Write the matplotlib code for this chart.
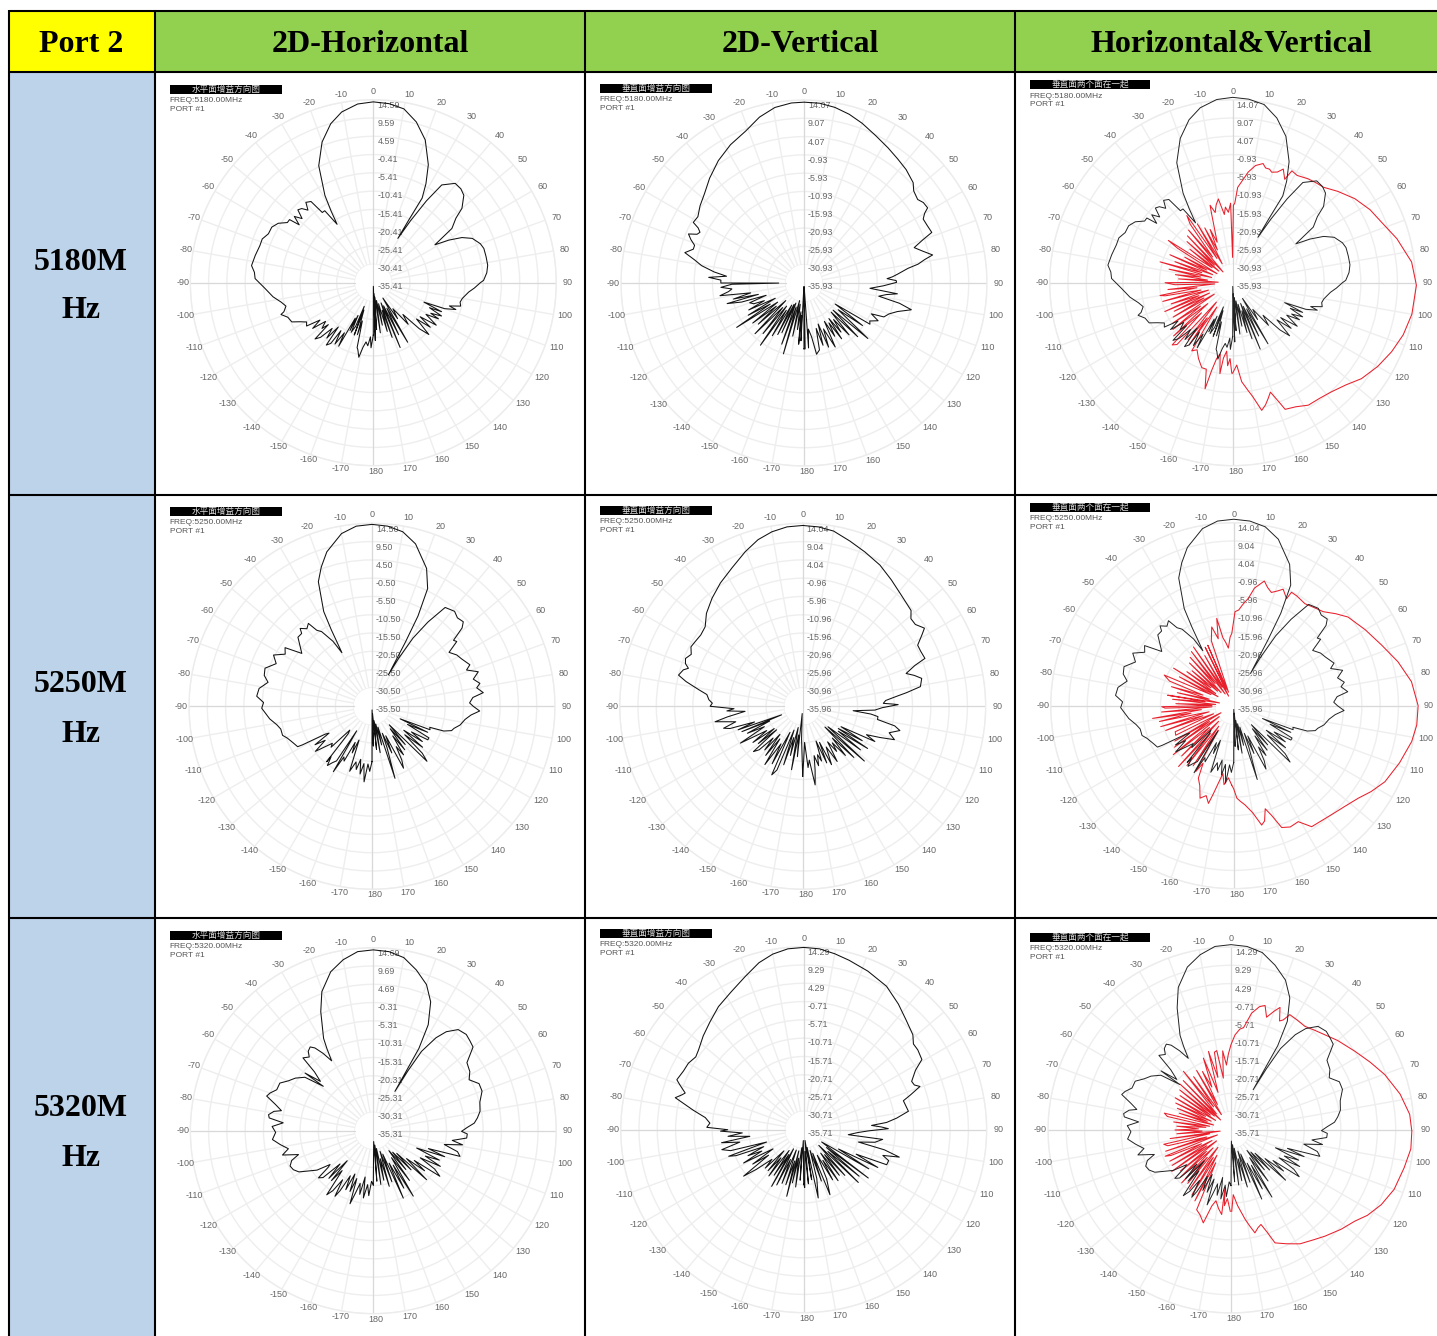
#!/usr/bin/env python3
"""Antenna gain pattern table, port 2: three frequencies by three plot types."""
import numpy as np
import matplotlib
matplotlib.use("Agg")
import matplotlib.pyplot as plt
from matplotlib.patches import Rectangle

# traces are (angle deg, level in dB above the plot floor)
H_5180 = [(-180,14.5),(-178,18),(-177,15),(-175,17.5),(-173,16.5),(-171,18),(-169,21),(-167,19),(-166,18.5),(-164,11),(-163,15),(-161,8),(-160,15.4),(-159,7),(-158,13),(-156,15),(-155,10),(-154,14.7),(-153,11),(-151.4,20),(-150,16),(-148,20),(-146,16),(-145,20.5),(-143,21.6),(-141.7,15.6),(-140,20),(-138,17),(-136,21),(-134,22.4),(-133,17),(-131.7,19),(-129,17),(-127,21),(-125,18),(-123,22),(-120.5,21.4),(-118,23),(-115.7,25),(-112,25.5),(-109,27),(-108,26),(-105,25),(-102,26),(-98,28),(-93,30),(-88,32.7),(-85,33),(-82,34),(-77,33.5),(-72,33),(-68.5,33),(-65,32),(-61.3,32),(-58,31),(-55,29),(-53,29),(-52,26),(-50,28.5),(-48,26.5),(-46,29),(-44,28.5),(-42,27),(-40,29),(-37.5,28.3),(-36,24),(-34,24),(-31.8,19),(-30.5,23),(-29,27.6),(-25,35.7),(-20,41.4),(-15,45.5),(-10.5,48),(-5,49.6),(0,50),(5,49.7),(10,48.8),(15,46),(20,42),(25,36),(28,31),(30,27),(29.5,20),(29,14),(31,20),(33,27),(35,33),(39.5,35.6),(43,35.5),(46,34.8),(50,32),(52,29),(55.4,26.4),(58.4,20),(60.6,24),(63,27.5),(65.9,30),(70,31.5),(72.8,32),(77,32),(81.3,32),(85,31.5),(88.8,30.5),(90,29.6),(93,28),(95.6,26.5),(100,25),(102.6,24.6),(105,25),(107,22),(108,24),(110,21),(111,15),(113,20.5),(114,17),(116,21),(118,18),(119,20.6),(121,17),(124,21),(126,16),(128,20),(130,15.6),(133,21),(135,18),(137,12),(140,15),(143,9),(146,12),(148,5),(150,19),(152,8),(154,16),(156,7),(157.5,19.4),(159,6),(161,16),(162,8),(164,14),(166,6),(168,12),(170,5),(172,14),(174,4),(176,13),(177,3),(178,16),(179,1),(180,14.5)]
H_5250 = [(-180,15.3),(-178,18),(-176,16),(-174,21),(-172,16),(-170,19),(-168,15),(-166,18),(-164,16),(-161,19),(-159,10),(-157,14),(-155,11),(-153,17),(-151,16),(-149.4,21),(-148,8),(-147,18),(-145,19),(-143,20.5),(-141,18),(-140.7,19.8),(-139,10),(-137,9),(-135,16),(-133,15),(-130,18),(-128.5,20),(-126,16),(-124,19),(-122,14),(-120.8,15),(-119,22),(-118.5,23.4),(-115,24),(-110.6,25),(-108,26),(-104,26),(-101,26.8),(-97,28.5),(-91,30.5),(-88,30),(-85,32),(-81,31.6),(-77,29.5),(-74,31),(-70.4,31.4),(-66,29),(-62.5,30.7),(-59,28),(-56,29),(-53,24.3),(-50,26),(-47,28),(-44,28),(-42.7,29.3),(-40,28),(-37.5,28.9),(-36,26),(-34,24.9),(-31,21),(-29.3,17),(-28,24),(-27,29.4),(-23.3,37.5),(-20,41),(-16.3,44.5),(-10,48.5),(-5,50),(0,50.3),(5,50),(10,49),(15,46.5),(21.6,41),(25.3,36),(27,28),(27.5,20),(27.5,9.8),(29,15),(31,22),(33.6,28),(36.5,34),(41,34.8),(44,34),(47.2,34.4),(49,33),(51,29),(52.6,29.5),(55,26),(58.8,27.4),(62,28),(67,29.4),(69,28),(72,30.9),(75,29),(78,30.5),(80,29.4),(83,31),(85,28),(88,27),(90,28),(92.5,29.8),(95,27.5),(98,26),(102,24.9),(105,23.5),(107,23),(109,21),(110,17),(112,17.3),(114,8.5),(115,17),(117,11),(119,18),(121,18),(123,13),(125,17),(127,11),(129,18),(131,12),(133,19),(135,21.5),(137,7),(139,14),(141,8),(143,15),(145,10),(147,16),(149,13),(151,17),(153,19.2),(155,9),(157,14),(159,8),(160,12),(162.3,20.9),(164,6),(166,11),(168,5),(170,13),(172,4),(174,12),(176,2),(178,11),(179,1),(180,15.3)]
H_5320 = [(-180,15),(-178,14),(-176,18),(-174,15),(-171.6,18.8),(-170,13),(-168,18),(-166,15),(-164,18),(-162.3,21.2),(-161,14),(-159,18),(-157,13),(-155,18),(-153,14),(-151,19),(-149.7,21),(-148,16),(-146,20),(-144,21.9),(-142,14),(-140,18),(-139,11),(-137,18),(-135,13),(-133,19),(-130.7,20),(-129,16),(-128,15.2),(-125,19),(-122,21),(-119,23.5),(-116,24.6),(-113,25),(-110,24),(-107.7,21.7),(-105,26),(-102,24),(-98.5,26),(-95,28),(-91,27),(-87.6,28),(-85,25),(-83,29),(-81.3,29.3),(-79,28),(-77.7,26),(-75,28),(-72,31),(-70,30.4),(-67,29),(-63,29),(-59.5,27.2),(-56,26),(-52,24),(-48.4,18.5),(-49.8,24.7),(-47,20),(-45,23),(-44,28),(-41,27),(-39.3,28.4),(-37,29),(-35.2,28),(-33,25.5),(-30.8,22.5),(-29.5,26),(-28.3,29),(-23.8,36),(-20.3,41),(-15,45.5),(-10,48),(-5,49.7),(0,50),(5,49.7),(10,48.6),(15,46),(20,43),(24,39),(27.4,33),(29,26),(28.8,12.4),(30,19),(31.3,25.7),(34,31),(36.4,34),(40,36.5),(44,37),(47,36.5),(50,36),(54,32),(58.5,31.3),(62,30),(66,32),(70,32),(75,30.5),(79.7,30),(83,29),(85.7,28),(88,26),(90.4,24.4),(92,26),(94.5,25.9),(97,22),(99,25),(101,20),(104,24),(106.5,25),(108,16),(110,21),(111.8,12.9),(114,20),(116,16),(118,21),(120,15),(122,20),(124.4,22.3),(126,14),(128,18),(130,12),(132.6,20),(134,9),(136,15),(138,8),(140,14),(142,7),(144,17),(146,9),(148.6,21.2),(150,11),(152,18),(154,10),(156,20.4),(158,7),(160,15),(162,6),(164,16),(166,8),(168,14),(170,5),(172,15),(174,4),(176,14),(178,3),(180,15)]
V_5180 = [(-180,18.2),(-178,1),(-177,16),(-176,9),(-175,17),(-174,8),(-172,13),(-170,6),(-168,15),(-166,5),(-163.8,20.4),(-162,7),(-160,18),(-158,6),(-156,15),(-155,6.5),(-153,16),(-151,7),(-149,17),(-147,9),(-145,21),(-143,8),(-141,18),(-139,9),(-136,19.5),(-134,7),(-132,17),(-130,10),(-128,18),(-126,9),(-123.4,22.3),(-122,11),(-120,17.8),(-118,9),(-116,17),(-114,12),(-112.5,15),(-110,16),(-108,11),(-107,18),(-105,22),(-104,13),(-102.8,20),(-100.5,15),(-98.6,23.5),(-96.5,21),(-94.7,20),(-93,23),(-91,20),(-90.2,7),(-90,23),(-88,23),(-86.6,26.4),(-85,21.5),(-83,25),(-80.4,28.7),(-78,31),(-75.7,34),(-73,32),(-71,32),(-69,33.5),(-67,34.7),(-65.5,32.5),(-64,32),(-62.5,33),(-61.3,34.9),(-58,34.6),(-53.4,35.8),(-48,37),(-42,39),(-35,41.3),(-28,43.3),(-21,45),(-15,47.5),(-9.4,49.2),(-4,49.9),(0,50),(5,49.9),(10,49.3),(15,48.3),(20,47),(26,45.3),(31.9,44),(37,43),(42,42.2),(47.4,41),(50,39.6),(53.7,39),(56,39.8),(58.7,40),(60,38.5),(61.8,37.4),(65,37.6),(68.4,38),(70,35),(72.2,32),(75,34),(77.7,36.4),(79,34),(80.6,32),(82,29),(84.6,26),(86,24.5),(87,23),(88.5,25.5),(89.6,25.6),(92,22),(94.6,18.3),(96.6,26),(98,23),(100,21),(102,27),(104,30.6),(107,27),(110,25),(113,24),(114.6,20.5),(117,23),(120,21),(122,21.5),(124,10.4),(126,20),(128,12),(131,23.4),(133,11),(135,21),(137,11),(139,19),(141,13),(143,17),(145,12),(146,18.6),(148,13),(150,17),(152,12),(154,19.7),(157,13.8),(159,19),(161,12),(163,18),(165,13),(167,19),(170,20),(172,15),(174.6,12.8),(176,18),(177.5,1),(179,18.2),(180,18.2)]
V_5250 = [(-180,19.4),(-178,9),(-176,2),(-174,14),(-172,8),(-170,17.8),(-168,6),(-166,14),(-164,9),(-162,17),(-160,7),(-158,19),(-155.7,20.8),(-154,8),(-152,18),(-150,12),(-147,19.2),(-145,11),(-143,17),(-141,10),(-139,16),(-137,12),(-135,17),(-132.6,18.5),(-132,9.7),(-130,16),(-128,10),(-126,17),(-124,12),(-120.6,20),(-118,12),(-116,17),(-114,10),(-112.6,18.2),(-112,6.3),(-110,19),(-108,14),(-107,21),(-105.5,22.7),(-103,19),(-100,24.6),(-98,21),(-95,16),(-93.5,21),(-92,19),(-90,25.6),(-88,25),(-86,26),(-83,26.7),(-81,29),(-78,33),(-75.9,35.4),(-73,34.5),(-71.6,33.3),(-70,34.5),(-67.8,35),(-65,34),(-62,35),(-59,34.7),(-55,34.4),(-50.8,34.8),(-46,37),(-40,39),(-33.7,41),(-27,43),(-20.4,45.6),(-15,47.7),(-10,49),(-5,49.8),(0,50),(5,49.8),(10,49.2),(16,47.5),(22,46),(28.7,44.5),(35,42.7),(42,41),(48.5,40),(51,38.5),(54,38.5),(57.3,40),(59,38.5),(62,36),(65,36),(68.6,36.3),(70,33),(72.4,30),(74.5,32),(76.8,33.8),(80.5,33),(82.5,29),(84,26),(86,23),(87.9,22.3),(88.6,25),(89,26.4),(91,22),(93,20),(95,14),(96.5,19),(97.8,21),(100,21),(102,26),(104,27.7),(107,25),(110,27),(112,23),(114,19.3),(116,22.2),(118,12),(120,19),(122,11.6),(123,21.4),(125,12),(127,20),(129,9),(131.6,22.8),(133,8.4),(135,20),(137,12),(139,18),(141,13),(143,15.6),(145,12),(148,18),(150,13),(153.7,18),(155,11),(157,17),(159,10.3),(161,16),(163,14),(165,17),(167,14),(169,18),(171,22),(173,15),(175,17),(177,10),(179,15),(180,19.4)]
V_5320 = [(-180,15),(-178,3),(-176,14),(-174,5),(-172,16),(-170,8),(-168,15),(-167,6),(-165.7,19),(-164,9),(-162,16),(-160,6),(-158,16),(-156,9),(-154,17),(-152,6),(-150.5,18),(-149,8),(-147,15),(-145,7),(-143,16),(-141,10),(-139,15),(-137,8),(-135,15),(-133,12),(-130,17),(-127.7,21),(-126,12),(-124,17),(-122,10),(-119,19),(-117,13),(-115,17),(-113,12),(-111,20),(-109.5,22),(-108.4,10.8),(-106,21),(-103.7,23.3),(-101,18),(-99,23),(-97,15),(-95,21),(-93,17),(-91,23),(-90,21),(-88.6,26.8),(-86,26),(-83,27.4),(-80,31),(-76,36.6),(-74,35),(-72.8,34.3),(-70,36.5),(-68.5,37.7),(-64,37),(-60,36.8),(-56,36),(-52.8,36.5),(-47,38),(-41,39.5),(-34.7,41.4),(-28,43),(-21,45.3),(-15,47.8),(-10,49.3),(-5,50.2),(0,50.4),(5,50.2),(10,49.4),(15,48.5),(22,47.3),(30,45.8),(37,43.5),(43,41.5),(49,40),(52,38.5),(55,38.5),(59.3,38),(62,35),(65.9,32.7),(68,33),(69.6,34.3),(72,31),(73.8,28.7),(77,29),(80,29.4),(82.9,25.9),(85,23),(86.4,18.8),(88,21.5),(89.3,23.4),(91,18),(93,15),(96.4,12.4),(97,22),(100,20),(102.7,15.5),(104,23),(106,27.5),(108,23),(110,25),(112.9,24.9),(115,16),(117,23),(119,11),(121,21),(123,8),(124.4,6),(126.8,22.3),(128,8),(130,20),(132,9),(134,21),(136,6),(138,17),(140,9),(142,16),(144,8),(146,17),(148,10),(150,16),(152,8),(155,15),(158,19.4),(159,7),(161,15),(163,6),(165,14),(168,19.3),(169,5),(171,14),(173,3),(175,15),(177,6),(179,16),(180,15)]
R_5180 = [(-179.4,25),(-178,21),(-176.5,23),(-175,19),(-173,21),(-172,25.4),(-170,20),(-168,21.5),(-166.5,25),(-165.4,30.3),(-163,25),(-160,25),(-155.7,23),(-152,21),(-149,22),(-147,8),(-145,21),(-144,12),(-142,20),(-140,7),(-138,23),(-135.8,24),(-134,12),(-132,22),(-130,9),(-128,21),(-126,11),(-124,20),(-122,6),(-120,19),(-118,9),(-116,18),(-114,7),(-113,20.4),(-111,10),(-109,18),(-107,7),(-105,20),(-103,9),(-101,19),(-100,20.4),(-98,10),(-96,18),(-94,5),(-92,16),(-90,18.7),(-88,4),(-86,15),(-84,7),(-82,16),(-80,9),(-78,18),(-76,6),(-74,20.9),(-72,9),(-70,17),(-68,6),(-66,19),(-64,8),(-62,15),(-60,5),(-58,18),(-56.7,21.3),(-54,7),(-52,15),(-50,5),(-48,17),(-46,7),(-44,18),(-42,4),(-40,19),(-38,9),(-36,20),(-34.3,22.5),(-33,8),(-31,19),(-29,6),(-27,17),(-25,10),(-23,16),(-21,12),(-19,15),(-17,20),(-16.3,22.3),(-14,20),(-12,22),(-9.7,23.5),(-7,19),(-5.5,21),(-3.5,19.5),(-1.5,22),(-0.3,7),(0.5,21.4),(1.5,22),(3,26.4),(5,28),(8,30.9),(11,33),(14.3,34),(16,33),(18,33),(19.4,32.4),(22,33),(24,34.4),(26.7,32),(27.9,35),(31,34.6),(36,35.5),(40,36),(43.5,36.4),(49,38.5),(55.5,41),(62,43),(67.8,44.4),(75,47),(83.4,49.8),(90.8,50.8),(100,50.3),(107,49.3),(113.5,47.9),(120,46.3),(126.7,44.4),(132,42.2),(137.8,40.7),(143,40),(148.3,39.8),(153,38.5),(157.5,37.9),(159,35),(161,32),(163,33.5),(165,35),(167.2,36.2),(170,32),(172,30),(174.8,27.5),(177.2,22.8),(180,25)]
R_5250 = [(-178.5,21.9),(-175.8,20),(-173,22),(-171,19),(-168.8,21.8),(-167,25),(-165.5,27.9),(-163,26),(-160,27.2),(-157,24),(-154,22.3),(-152,18),(-150,21),(-148,8),(-146,20),(-144,7),(-142,21),(-140,10),(-137.8,22.7),(-136,6),(-134,20),(-132,9),(-129,21.5),(-127,5),(-125,20),(-123,8),(-121,19),(-119,4),(-117,18),(-114,17.7),(-112,6),(-110,20),(-108,9),(-106,21),(-104,7),(-102,21),(-100,12),(-98.9,22.7),(-97,9),(-95,20),(-93,6),(-92,19),(-90.8,19.9),(-89.5,6),(-88,16),(-86,5),(-84,17),(-82,8),(-81,18.5),(-79,4),(-77,16),(-75,7),(-73,18),(-71,9),(-69,19),(-66.2,21),(-64,7),(-62,17),(-60,5),(-58,19.6),(-56,6),(-54,16),(-52,8),(-50,15),(-48,6),(-46,17),(-44,5),(-42,18),(-40,8),(-38,19),(-36,4),(-34.4,19.7),(-32,6),(-30,16),(-28,3),(-26,18),(-24,5),(-23.2,18.2),(-21,4),(-19,19),(-17,21),(-15.6,22.6),(-13,19),(-11,24.6),(-9,19),(-7,17.5),(-5.3,16),(-3,19),(-1.5,20),(0.8,26),(3,26.5),(5,28),(7.8,30),(10,33),(13.8,35.5),(16,34),(18.4,33),(21,34),(23,35),(26.3,33),(27,35.2),(30,35),(34.9,34.4),(40,35.2),(43.6,35.9),(48,38),(52.2,40),(60,42),(67.7,44.2),(75,47),(82.3,49.6),(90,51),(96,50.9),(101.4,50.2),(109,48.5),(116.7,46.8),(122,44.8),(126.6,42.9),(132,41.5),(138,40.5),(143,40),(147.2,39.8),(150.9,36.7),(155,37),(158.5,36.2),(161,32),(163,29.8),(165,33),(166.8,33.9),(170,30),(173.5,27.6),(176,26.5),(178,25.6),(180,23),(181.5,21.9)]
R_5320 = [(-179.5,22.5),(-177,19),(-175,21),(-174,16),(-173.7,23.5),(-171,22),(-168,20),(-165.8,21.7),(-163.4,26.8),(-160,25),(-156.7,24),(-155,10),(-153,22),(-151,8),(-149,21),(-147,9),(-145,20),(-143,6),(-141,19),(-139,10),(-137,20),(-135,7),(-133,19),(-131,9),(-129,18),(-127,5),(-125,20),(-123,8),(-121,19),(-119,6),(-117,19),(-115,9),(-113,18),(-111.7,19.6),(-110,4),(-108,19),(-106,7),(-104,18),(-102,19),(-100,6),(-98,17),(-96,3),(-94,15),(-92,8),(-90,15.5),(-88,9),(-86,15),(-84,7),(-82,16),(-80,6),(-78,18),(-75.8,19),(-74,5),(-72,15),(-70,7),(-68,16),(-66,6),(-64,17),(-62,8),(-60,17.8),(-58,5),(-56,17),(-54,7),(-52,18),(-50,6),(-48,19),(-46,4),(-44,19),(-42,6),(-39,20.9),(-37,8),(-35,18),(-32,5),(-30,19),(-28,8),(-26,18),(-24,13),(-21,21.3),(-19,11),(-16,22.6),(-14,15),(-12,22),(-10.2,22.3),(-8.4,14.5),(-6,22),(-4,18),(-2,21),(0,23.6),(2.4,26.3),(5,28),(7,28.5),(10,32.8),(13,35),(15.3,35.7),(17.5,32.7),(20,35),(21.8,36.5),(24,33),(25.4,33.7),(27,35.8),(31,35.5),(35.5,35.2),(40,36),(43.9,36.8),(50,38.5),(57.6,40.6),(64,42.8),(70.2,45.2),(78,47.8),(85,49.6),(90.4,50),(96,50),(102.3,49),(110,48),(116.4,46.4),(122,44.5),(126.4,42.5),(132,41),(138.5,39.2),(143,38),(148.8,36.8),(154,35),(158.7,33.5),(160.5,30),(162.4,27.4),(164.5,28),(166.9,29.2),(169,27),(171,25),(175,21),(178,17.9),(179.5,22.5)]

FLOORS = [[-35.41, -35.93, -35.93], [-35.50, -35.96, -35.96], [-35.31, -35.71, -35.71]]
FREQS = ["5180", "5250", "5320"]
ROW_LABELS = ["5180M", "5250M", "5320M"]
HEADERS = ["Port 2", "2D-Horizontal", "2D-Vertical", "Horizontal&Vertical"]
PANEL_TITLES = ["水平面增益方向图", "垂直面增益方向图", "垂直面两个面在一起"]
H_TRACES = [H_5180, H_5250, H_5320]
V_TRACES = [V_5180, V_5250, V_5320]
R_TRACES = [R_5180, R_5250, R_5320]

# polar centres and title boxes in image pixels (one row per frequency)
CENTERS = [[(373.3, 282.7), (804, 283), (1232.7, 282.7)],
           [(372, 706.3), (802.7, 706.3), (1233.7, 705.7)],
           [(373.3, 1130.7), (803.7, 1129.7), (1231, 1130)]]
TITLE_TOP = [[84.7, 83.7, 80], [506.7, 505.7, 503], [930.7, 928.7, 932.7]]
TITLE_X = [(170, 282), (600, 712), (1030, 1150)]

W, H = 1437, 1336
RADIUS_PX = 183.0
R_MAX = 50.6
RING = R_MAX / 10
FONT = ["Liberation Sans", "DejaVu Sans"]
CJK = ["Noto Sans CJK SC", "DejaVu Sans"]

plt.rcParams["font.family"] = FONT
fig = plt.figure(figsize=(W / 100, H / 100), dpi=100, facecolor="white")
bg = fig.add_axes([0, 0, 1, 1])
bg.set_xlim(0, W)
bg.set_ylim(H, 0)
bg.axis("off")


def cell(x0, y0, x1, y1, color):
    bg.add_patch(Rectangle((x0, y0), x1 - x0, y1 - y0, facecolor=color, edgecolor="none"))


cell(9, 11, 155, 72, "#FFFF00")
cell(155, 11, W, 72, "#92D050")
cell(9, 72, 155, H, "#BDD3EA")
for x in [9, 155, 585, 1015]:
    bg.plot([x, x], [10, H], color="black", lw=1.5, solid_capstyle="butt")
for y in [11, 72, 495, 918]:
    bg.plot([9, W], [y, y], color="black", lw=1.5, solid_capstyle="butt")

serif = dict(family="Liberation Serif", weight="bold", size=23, ha="center", va="center", color="black")
for text, x in zip(HEADERS, [81, 370, 800, 1231]):
    bg.text(x, 44, text, **serif)
for text, y in zip(ROW_LABELS, [262, 685, 1109]):
    bg.text(81, y, text, **serif)
    bg.text(81, y + 49, "Hz", **serif)


def pattern(row, col):
    cx, cy = CENTERS[row][col]
    ax = fig.add_axes([(cx - RADIUS_PX) / W, 1 - (cy + RADIUS_PX) / H,
                       2 * RADIUS_PX / W, 2 * RADIUS_PX / H], projection="polar")
    ax.patch.set_alpha(0)
    ax.set_theta_zero_location("N")
    ax.set_theta_direction(-1)
    ax.set_ylim(0, R_MAX)
    ax.spines["polar"].set_color("#ececec")
    ax.spines["polar"].set_linewidth(1.0)
    ax.set_axisbelow(True)
    ax.set_yticks(RING * np.arange(1, 11))
    ax.set_yticklabels([])
    ax.set_thetagrids(np.arange(0, 360, 10), labels=[])
    ax.grid(color="#eeeeee", lw=1.0)
    ax.tick_params(length=0)
    # hub is left empty, only the two main axes run through it
    ax.bar(0, RING, width=2 * np.pi, bottom=0, color="white", zorder=1)
    for deg in (0, 180):
        ax.plot(np.radians([deg, deg]), [0, R_MAX], color="#d8d8d8", lw=0.8, zorder=1.2)
    for deg in (-90, 90):
        ax.plot(np.radians([deg, deg]), [RING, R_MAX], color="#d8d8d8", lw=0.8, zorder=1.2)

    for deg in range(-170, 190, 10):
        label = "0" if deg == 0 else str(abs(deg) if deg > 0 else deg)
        # the original labels sit a touch right of the spoke, and closer in at the bottom
        dx = 3 if deg > 0 else 1 if deg < 0 else 0
        dy = 3 * max(0.0, -np.cos(np.radians(deg)))
        ax.annotate(label, (np.radians(deg), R_MAX * 1.047), xytext=(dx, dy), textcoords="offset pixels",
                    fontsize=6.5, color="#666666", ha="center", va="center", annotation_clip=False)

    floor = FLOORS[row][col]
    for k in range(11):
        ax.annotate(f"{floor + 5 * k:.2f}", (0, 5 * k), xytext=(4, -3.7), textcoords="offset pixels",
                    fontsize=6.4, color="#666666", ha="left", va="center", annotation_clip=False)

    if col == 2:
        ang, lev = zip(*R_TRACES[row])
        ax.plot(np.radians(ang), lev, color="#e8202c", lw=0.75, zorder=3, clip_on=False)
        ang, lev = zip(*H_TRACES[row])
        ax.plot(np.radians(ang), np.array(lev) * 1.025, color="#222222", lw=0.7, zorder=3.2, clip_on=False)
    else:
        ang, lev = zip(*(H_TRACES if col == 0 else V_TRACES)[row])
        ax.plot(np.radians(ang), lev, color="#111111", lw=0.75, zorder=3, clip_on=False)

    x0, x1 = TITLE_X[col]
    top = TITLE_TOP[row][col]
    bg.add_patch(Rectangle((x0, top), x1 - x0, 9.3, facecolor="black", edgecolor="none"))
    bg.text((x0 + x1) / 2, top + 4.4, PANEL_TITLES[col], family=CJK, fontsize=6.2,
            color="#dddddd", ha="center", va="center")
    bg.text(x0 - 0.5, top + 16, f"FREQ:{FREQS[row]}.00MHz", fontsize=6.0, color="#555555", va="center")
    bg.text(x0 - 0.5, top + 24.5, "PORT #1", fontsize=6.0, color="#555555", va="center")


for row in range(3):
    for col in range(3):
        pattern(row, col)

fig.savefig("out.png", dpi=100)
